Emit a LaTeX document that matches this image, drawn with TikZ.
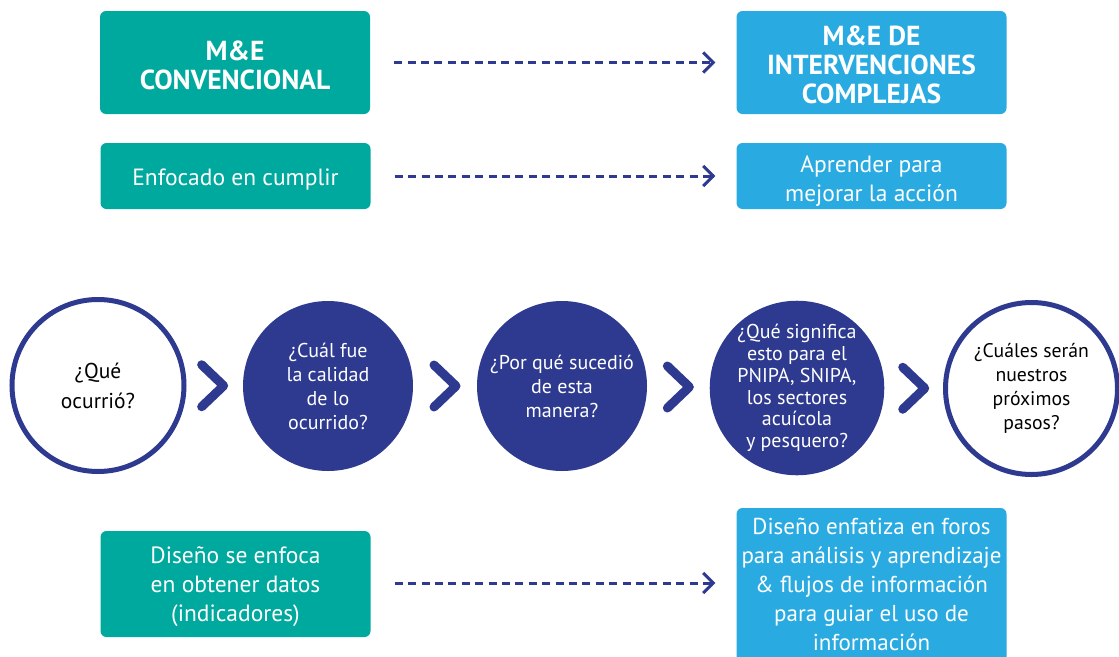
\documentclass[tikz,border=0pt]{standalone}
\usepackage{fontspec}
\setmainfont{PT Sans}
\usetikzlibrary{arrows.meta,calc}
\definecolor{teal1}{HTML}{00A99D}
\definecolor{sky}{HTML}{29ABE2}
\definecolor{navy}{HTML}{2E3A8F}
\begin{document}
\begin{tikzpicture}[x=1pt,y=-1pt,
 box/.style={rounded corners=6pt, minimum width=270pt, inner sep=0pt},
 conv/.style={box, fill=teal1},
 cplx/.style={box, fill=sky},
 head/.style={align=center, text=white, yshift=-2.5pt, font=\fontsize{27.5}{29}\selectfont\bfseries},
 body/.style={align=center, text=white, yshift=-4pt, font=\fontsize{23.5}{29}\selectfont},
 ring/.style={circle, draw=navy, line width=5pt, fill=white, minimum size=172pt, inner sep=0pt, align=center, text=black, font=\fontsize{21.5}{30}\selectfont},
 disc/.style={circle, fill=navy, minimum size=170pt, inner sep=0pt, align=center, text=white, font=\fontsize{20}{24}\selectfont},
 flow/.style={draw=navy, line width=3pt, dash pattern=on 8pt off 5.4pt, -{Straight Barb[length=10pt,width=20pt]}, shorten <=24pt, shorten >=21pt},
 chev/.pic={\draw[navy, line width=9pt, line cap=round, line join=round] (-11,-21) -- (11,0) -- (-11,21);}
]
\useasboundingbox (0,0) rectangle (1119,656);
\clip (0,0) rectangle (1119,656);

% boxes
\node[conv, minimum height=103pt, label={[head]center:{M\&E\\CONVENCIONAL}}] (convA) at (235,62.5) {};
\node[cplx, minimum height=103pt, label={[head]center:{M\&E DE\\INTERVENCIONES\\COMPLEJAS}}] (cplxA) at (871.5,62.5) {};
\node[conv, minimum height=66pt, label={[body]center:{Enfocado en cumplir}}] (convB) at (235.5,176) {};
\node[cplx, minimum height=66pt, label={[body, yshift=-1pt]center:{Aprender para\\mejorar la acción}}] (cplxB) at (871.5,176) {};
\node[conv, minimum height=106pt, label={[body, yshift=1pt]center:{Diseño se enfoca\\en obtener datos\\(indicadores)}}] (convC) at (235.5,584) {};
\node[cplx, minimum height=156pt, label={[body, yshift=6pt, font=\fontsize{23}{29}\selectfont]center:{Diseño enfatiza en foros\\para análisis y aprendizaje\\\& flujos de información\\para guiar el uso de\\información}}] (cplxC) at (871.5,586) {};

% dashed connectors
\draw[flow] (convA.east) -- (convA.east -| cplxA.west);
\draw[flow] (convB.east) -- (convB.east -| cplxB.west);
\draw[flow] ([yshift=1pt]convC.east) -- ([yshift=1pt]convC.east -| cplxC.west);

% circles
\node[ring] (q1) at (98,385.5) {¿Qué\\ocurrió?};
\node[disc] (q2) at (328,386) {¿Cuál fue\\la calidad\\de lo\\ocurrido?};
\node[disc] (q3) at (562,386) {¿Por qué sucedió\\de esta\\manera?};
\node[disc, minimum size=172pt, font=\fontsize{20}{21.8}\selectfont, yshift=-2pt] (q4) at (797,386) {¿Qué significa\\esto para el\\PNIPA, SNIPA,\\los sectores\\acuícola\\y pesquero?};
\node[ring, font=\fontsize{19.7}{24}\selectfont, yshift=-3pt] (q5) at (1031.5,385.5) {¿Cuáles serán\\nuestros\\próximos\\pasos?};

% chevrons
\pic at ($(q1.east)!0.5!(q2.west)+(-2,0)$) {chev};
\pic at ($(q2.east)!0.5!(q3.west)$) {chev};
\pic at ($(q3.east)!0.5!(q4.west)$) {chev};
\pic at ($(q4.east)!0.5!(q5.west)$) {chev};
\end{tikzpicture}
\end{document}
